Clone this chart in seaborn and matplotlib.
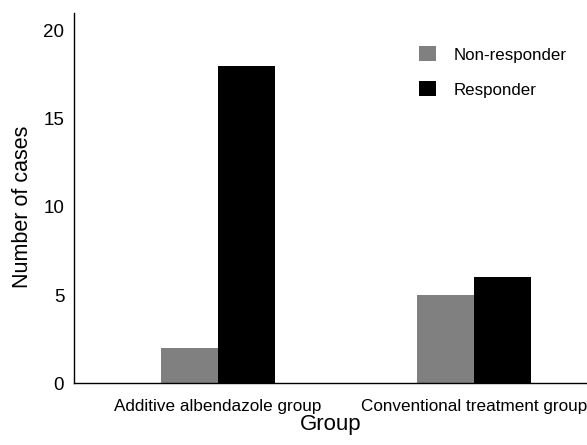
import pandas as pd
import matplotlib
matplotlib.use("Agg")
import matplotlib.pyplot as plt
import seaborn as sns

groups = ["Additive albendazole group", "Conventional treatment group"]
non_responder = [2, 5]
responder = [18, 6]

df = pd.DataFrame({
    "Group": groups * 2,
    "Number of cases": non_responder + responder,
    "Outcome": ["Non-responder"] * 2 + ["Responder"] * 2,
})

sns.set_style("white")
plt.rcParams["font.family"] = ["Liberation Sans", "DejaVu Sans"]
plt.rcParams["text.color"] = "black"
plt.rcParams["axes.labelcolor"] = "black"
plt.rcParams["xtick.color"] = "black"
plt.rcParams["ytick.color"] = "black"

fig = plt.figure(figsize=(5.87, 4.45), dpi=100)
ax = fig.add_axes([0.126, 0.1386, 0.874, 0.8324])

sns.barplot(data=df, x="Group", y="Number of cases", hue="Outcome",
            palette={"Non-responder": "#808080", "Responder": "#000000"},
            width=0.444, saturation=1, linewidth=0, edgecolor="none", ax=ax)

ax.set_xlim(-0.56, 1.44)
ax.set_ylim(0, 21)
ax.set_yticks([0, 5, 10, 15, 20])
ax.tick_params(axis="y", direction="in", length=8, width=1, labelsize=13.5, pad=7)
ax.tick_params(axis="x", length=0, labelsize=12.3, pad=11)
ax.set_xlabel("Group", fontsize=16, labelpad=0)
ax.set_ylabel("Number of cases", fontsize=15.5)
ax.yaxis.set_label_coords(-0.08, 0.476)
for s in ["top", "right"]:
    ax.spines[s].set_visible(False)
for s in ["left", "bottom"]:
    ax.spines[s].set_color("black")
    ax.spines[s].set_linewidth(1)

ax.legend(title=None, frameon=False, loc="upper left",
          bbox_to_anchor=(0.7, 0.915), bbox_transform=fig.transFigure,
          fontsize=12.2, handlelength=1.0, handleheight=1.0,
          handletextpad=1.0, labelspacing=1.1, borderpad=0)

fig.savefig("out.png", dpi=100)
